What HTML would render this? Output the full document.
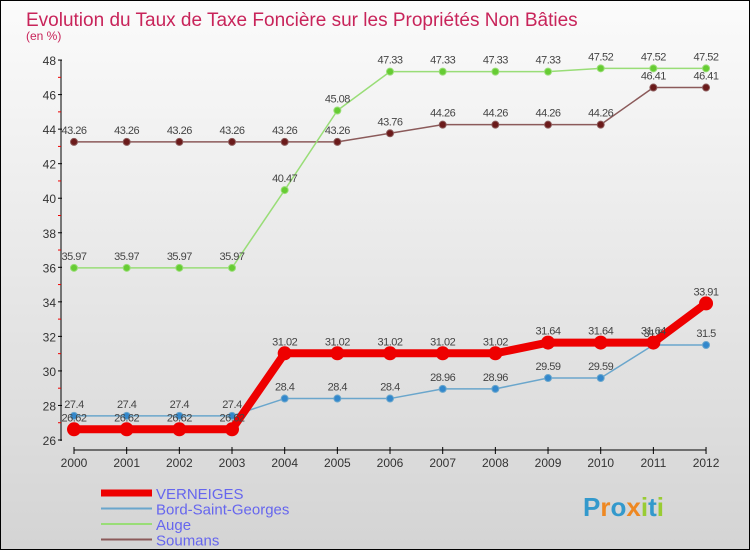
<!DOCTYPE html>
<html><head><meta charset="utf-8"><style>
body{margin:0;}
#c{width:748px;height:548px;border:1px solid #000;background:linear-gradient(#fbfbfb,#d4d4d4);position:relative;overflow:hidden;font-family:"Liberation Sans",sans-serif;}
</style></head><body>
<div id="c">
<svg id="s" width="748" height="548"></svg>
</div>
<script>
const years=[2000,2001,2002,2003,2004,2005,2006,2007,2008,2009,2010,2011,2012];
const verneiges=[26.62,26.62,26.62,26.62,31.02,31.02,31.02,31.02,31.02,31.64,31.64,31.64,33.91];
const bord=[27.4,27.4,27.4,27.4,28.4,28.4,28.4,28.96,28.96,29.59,29.59,31.5,31.5];
const auge=[35.97,35.97,35.97,35.97,40.47,45.08,47.33,47.33,47.33,47.33,47.52,47.52,47.52];
const soumans=[43.26,43.26,43.26,43.26,43.26,43.26,43.76,44.26,44.26,44.26,44.26,46.41,46.41];
const yTicks=[26,28,30,32,34,36,38,40,42,44,46,48];
const NS="http://www.w3.org/2000/svg";
const s=document.getElementById('s');
function X(i){return 73+i*52.67;}
function Y(v){return 439-(v-26)*17.27;}
function el(t,a,txt){const e=document.createElementNS(NS,t);for(const k in a)e.setAttribute(k,a[k]);if(txt!==undefined)e.textContent=txt;s.appendChild(e);return e;}
let t=el('text',{x:25,y:25,fill:'#c8245a','font-size':19},'Evolution du Taux de Taxe Foncière sur les Propriétés Non Bâties');


t=el('text',{x:25,y:39,fill:'#c8245a','font-size':12},'(en %)');


let a=el('line',{x1:60,y1:59,x2:60,y2:440,stroke:'#000','stroke-width':1});


a=el('line',{x1:73,y1:449,x2:705,y2:449,stroke:'#000','stroke-width':1});


yTicks.forEach(v=>{
  el('line',{x1:57,y1:Y(v),x2:61,y2:Y(v),stroke:'#000'});
  if(v<48) el('line',{x1:57,y1:Y(v+1),x2:60,y2:Y(v+1),stroke:'#e00'});
  const l=el('text',{x:55,y:Y(v)+5,'text-anchor':'end','font-size':12,fill:'#333'},v);
  
  
});
years.forEach((yr,i)=>{
  el('line',{x1:X(i),y1:446,x2:X(i),y2:453,stroke:'#000'});
  const l=el('text',{x:X(i),y:466,'text-anchor':'middle','font-size':12,fill:'#333'},yr);
  
  
});
function series(vals,color,w,r,name,dark){
  const p=el('polyline',{points:vals.map((v,i)=>X(i)+','+Y(v)).join(' '),fill:'none',stroke:color,'stroke-width':w,'stroke-linejoin':'round'});
  
  
  vals.forEach((v,i)=>{
    const c=el('circle',{cx:X(i),cy:Y(v),r:r,fill:dark,stroke:color,'stroke-width':1});
    
    
    const l=el('text',{x:X(i),y:Y(v)-8,'text-anchor':'middle','font-size':11,fill:'#444','letter-spacing':'-0.5'},String(v));
    
    
  });
}
series(soumans,'#8b5a5a',1.5,3.5,'soumans','#6b1a1a');
series(auge,'#99dd77',1.5,3.5,'auge','#66cc33');
series(bord,'#6aa6cc',1.5,3.5,'bord-saint-georges','#3388cc');
series(verneiges,'#ee0000',8,6.5,'verneiges','#ee0000');
const legend=[['VERNEIGES','#ee0000',7],['Bord-Saint-Georges','#6aa6cc',2],['Auge','#99dd77',2],['Soumans','#8b5a5a',2]];
legend.forEach((g,i)=>{
  const y=492+i*15.5;
  const ln=el('line',{x1:100,y1:y,x2:151,y2:y,stroke:g[1],'stroke-width':g[2]});
  
  
  const tx=el('text',{x:155,y:y+6,'font-size':15,fill:'#6666ee'},g[0]);
  
  
});
const lg=el('text',{x:582,y:515,'font-size':26,'font-weight':'bold',fill:'#3399cc'},'');


[['P','#3399cc'],['r','#ee8822'],['o','#3399cc'],['x','#ee8822'],['i','#99cc33'],['t','#3399cc'],['i','#99cc33']].forEach(p=>{const ts=document.createElementNS(NS,'tspan');ts.setAttribute('fill',p[1]);ts.textContent=p[0];lg.appendChild(ts);});
</script>
</body></html>
